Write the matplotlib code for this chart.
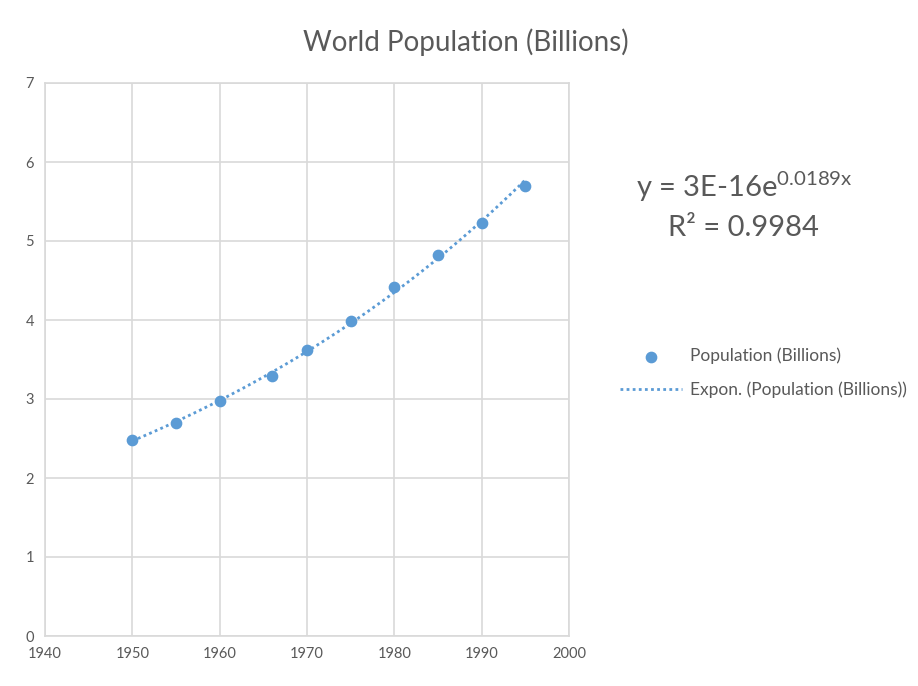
import numpy as np
import matplotlib
matplotlib.use("Agg")
import matplotlib.pyplot as plt

years = [1950, 1955, 1960, 1966, 1970, 1975, 1980, 1985, 1990, 1995]
population = [2.48, 2.70, 2.97, 3.29, 3.62, 3.99, 4.42, 4.82, 5.23, 5.70]
x_ticks = [1940, 1950, 1960, 1970, 1980, 1990, 2000]
y_ticks = [0, 1, 2, 3, 4, 5, 6, 7]

BLUE = "#5B9BD5"
TEXT = "#595959"
GRID = "#D9D9D9"

plt.rcParams["font.family"] = ["Lato", "DejaVu Sans"]
plt.rcParams["mathtext.fontset"] = "custom"
plt.rcParams["mathtext.rm"] = "Lato"

fig = plt.figure(figsize=(9.18, 6.86), dpi=100)
ax = fig.add_axes([45 / 918, 50 / 686, 524 / 918, 553 / 686])

# exponential trendline (least squares on log y, like Excel)
b, ln_a = np.polyfit(years, np.log(population), 1)
xs = np.linspace(years[0], years[-1], 200)
trend, = ax.plot(xs, np.exp(ln_a) * np.exp(b * xs), color=BLUE, lw=2,
                 linestyle=(0, (1, 1.2)), label="Expon. (Population (Billions))")
pts = ax.scatter(years, population, s=55, color=BLUE, zorder=3,
                 label="Population (Billions)")

ax.set_xlim(1940, 2000)
ax.set_ylim(0, 7)
ax.set_xticks(x_ticks)
ax.set_yticks(y_ticks)
ax.grid(True, color=GRID, lw=1.2)
ax.set_axisbelow(True)
for s in ax.spines.values():
    s.set_color(GRID)
    s.set_linewidth(1.2)
ax.tick_params(length=0, labelsize=10.5, labelcolor=TEXT, pad=8)

fig.text(466 / 918, 1 - 42 / 686, "World Population (Billions)", ha="center",
         va="center", fontsize=20, color=TEXT)

fig.text(744 / 918, 1 - 187 / 686, r"y = 3E-16e$^{\mathregular{0.0189x}}$",
         ha="center", va="center", fontsize=21, color=TEXT)
fig.text(743 / 918, 1 - 228 / 686, "R² = 0.9984", ha="center", va="center",
         fontsize=21, color=TEXT)

fig.legend(handles=[pts, trend], loc="center left",
           bbox_to_anchor=(604 / 918, 1 - 373 / 686), frameon=False,
           fontsize=12.5, labelcolor=TEXT, handlelength=3.6, handletextpad=0.45,
           labelspacing=1.0, scatterpoints=1)

fig.savefig("out.png", dpi=100)
